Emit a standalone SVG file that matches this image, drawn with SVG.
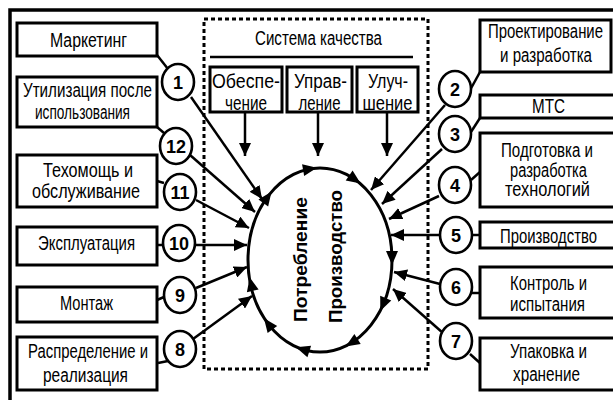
<svg xmlns="http://www.w3.org/2000/svg" width="613" height="400" viewBox="0 0 613 400">
<defs>
<style>
.box{fill:#fff;stroke:#000;stroke-width:3}
.num{fill:#fff;stroke:#000;stroke-width:2.6}
.t{font-family:"Liberation Sans Narrow","Liberation Sans",Arial,sans-serif;font-size:19.5px;text-anchor:middle;fill:#000}
.n{font-family:"Liberation Sans","Arial",sans-serif;font-size:18px;font-weight:bold;text-anchor:middle;fill:#000}
.b{font-family:"Liberation Sans","Arial",sans-serif;font-size:18.5px;font-weight:bold;fill:#000}
.ln{stroke:#000;stroke-width:2.5;fill:none}
.ar{stroke:#000;stroke-width:2.5;fill:none;marker-end:url(#ah)}
.dash{fill:none;stroke:#000;stroke-width:3;stroke-dasharray:4 3}
</style>
<marker id="ah" markerUnits="userSpaceOnUse" markerWidth="14" markerHeight="12" refX="13" refY="6" orient="auto">
<path d="M0,0 L13,6 L0,12 Z" fill="#000"/>
</marker>
<path id="tri" d="M7,0 L-7,-6 L-7,6 Z" fill="#000"/>
</defs>
<rect x="0" y="0" width="613" height="400" fill="#fff"/>
<rect x="10" y="10" width="620" height="400" fill="none" stroke="#000" stroke-width="3.5"/>
<rect id="quality-frame" class="dash" x="204" y="19" width="224" height="350"/>

<g id="connectors">
<line class="ln" x1="157" y1="55" x2="168" y2="69"/>
<line class="ln" x1="157" y1="127" x2="164" y2="133"/>
<line class="ln" x1="157" y1="181" x2="164" y2="183"/>
<line class="ln" x1="157" y1="245" x2="163" y2="245"/>
<line class="ln" x1="157" y1="300" x2="164" y2="297"/>
<line class="ln" x1="158" y1="363" x2="168" y2="361"/>
<line class="ln" x1="469" y1="92" x2="480" y2="72"/>
<line class="ln" x1="469" y1="135" x2="480" y2="118"/>
<line class="ln" x1="471" y1="180" x2="480" y2="172"/>
<line class="ln" x1="472" y1="235" x2="480" y2="235"/>
<line class="ln" x1="472" y1="293" x2="480" y2="293"/>
<line class="ln" x1="470" y1="354" x2="480" y2="363"/>
<line class="ar" x1="191" y1="97" x2="262" y2="199"/>
<line class="ar" x1="190" y1="155" x2="255" y2="212"/>
<line class="ar" x1="196" y1="200" x2="249" y2="228"/>
<line class="ar" x1="196" y1="245" x2="247" y2="245"/>
<line class="ar" x1="196" y1="288" x2="247" y2="267"/>
<line class="ar" x1="193" y1="339" x2="252" y2="296"/>
<line class="ar" x1="445" y1="105" x2="371" y2="190"/>
<line class="ar" x1="442" y1="149" x2="382" y2="204"/>
<line class="ar" x1="439" y1="196" x2="389" y2="219"/>
<line class="ar" x1="440" y1="235" x2="391" y2="235"/>
<line class="ar" x1="440" y1="284" x2="394" y2="272"/>
<line class="ar" x1="443" y1="333" x2="393" y2="289"/>
<line class="ar" x1="245" y1="112" x2="245" y2="156"/>
<line class="ar" x1="318" y1="112" x2="318" y2="156"/>
<line class="ar" x1="387" y1="112" x2="387" y2="156"/>
<line class="ln" x1="210" y1="57" x2="413" y2="57"/>
</g>

<g id="cycle">
<ellipse cx="320" cy="260" rx="72" ry="92" fill="none" stroke="#000" stroke-width="3"/>
<use href="#tri" transform="translate(310,169) rotate(-10)"/>
<use href="#tri" transform="translate(354.9,179.5) rotate(35)"/>
<use href="#tri" transform="translate(392,258) rotate(90)"/>
<use href="#tri" transform="translate(383,304.6) rotate(113)"/>
<use href="#tri" transform="translate(351.6,342.7) rotate(148)"/>
<use href="#tri" transform="translate(302.6,349.3) rotate(198)"/>
<use href="#tri" transform="translate(268.2,323.9) rotate(233)"/>
<use href="#tri" transform="translate(251.2,284) rotate(257)"/>
<use href="#tri" transform="translate(267.4,197.3) rotate(-54)"/>
<text class="b" transform="translate(307,322) rotate(-90)" textLength="125" lengthAdjust="spacingAndGlyphs">Потребление</text>
<text class="b" transform="translate(342,323) rotate(-90)" textLength="133" lengthAdjust="spacingAndGlyphs">Производство</text>
</g>

<g id="quality-system">
<text class="t" x="318.5" y="45" textLength="127" lengthAdjust="spacingAndGlyphs">Система качества</text>
</g>
<g id="obespechenie">
<rect class="box" x="210" y="67" width="72" height="45"/>
<text class="t" x="246" y="88" textLength="68" lengthAdjust="spacingAndGlyphs">Обеспе-</text>
<text class="t" x="246" y="110" textLength="42" lengthAdjust="spacingAndGlyphs">чение</text>
</g>
<g id="upravlenie">
<rect class="box" x="287" y="67" width="65" height="45"/>
<text class="t" x="320.5" y="88" textLength="53" lengthAdjust="spacingAndGlyphs">Управ-</text>
<text class="t" x="319.5" y="110" textLength="42" lengthAdjust="spacingAndGlyphs">ление</text>
</g>
<g id="uluchshenie">
<rect class="box" x="357" y="67" width="61" height="45"/>
<text class="t" x="388" y="88" textLength="40" lengthAdjust="spacingAndGlyphs">Улуч-</text>
<text class="t" x="387.5" y="110" textLength="50" lengthAdjust="spacingAndGlyphs">шение</text>
</g>

<g id="marketing">
<rect class="box" x="17" y="23" width="140" height="33"/>
<text class="t" x="88.5" y="47" textLength="77" lengthAdjust="spacingAndGlyphs">Маркетинг</text>
</g>
<g id="utilizatsiya">
<rect class="box" x="17" y="77" width="140" height="50"/>
<text class="t" x="87.5" y="97" textLength="129" lengthAdjust="spacingAndGlyphs">Утилизация после</text>
<text class="t" x="82.5" y="119" textLength="95" lengthAdjust="spacingAndGlyphs">использования</text>
</g>
<g id="tekhpomoshch">
<rect class="box" x="17" y="155" width="140" height="52"/>
<text class="t" x="88" y="177" textLength="90" lengthAdjust="spacingAndGlyphs">Техомощь и</text>
<text class="t" x="86" y="198" textLength="108" lengthAdjust="spacingAndGlyphs">обслуживание</text>
</g>
<g id="ekspluatatsiya">
<rect class="box" x="17" y="227" width="140" height="38"/>
<text class="t" x="86.5" y="250" textLength="97" lengthAdjust="spacingAndGlyphs">Эксплуатация</text>
</g>
<g id="montazh">
<rect class="box" x="17" y="287" width="140" height="35"/>
<text class="t" x="86.5" y="310" textLength="53" lengthAdjust="spacingAndGlyphs">Монтаж</text>
</g>
<g id="raspredelenie">
<rect class="box" x="17" y="337" width="140" height="53"/>
<text class="t" x="88" y="358" textLength="120" lengthAdjust="spacingAndGlyphs">Распределение и</text>
<text class="t" x="85.5" y="382" textLength="85" lengthAdjust="spacingAndGlyphs">реализация</text>
</g>

<g id="proektirovanie">
<rect class="box" x="480" y="20" width="131" height="52"/>
<text class="t" x="545.5" y="38" textLength="115" lengthAdjust="spacingAndGlyphs">Проектирование</text>
<text class="t" x="546" y="62" textLength="92" lengthAdjust="spacingAndGlyphs">и разработка</text>
</g>
<g id="mts">
<rect class="box" x="480" y="95" width="140" height="23"/>
<text class="t" x="548.5" y="113" textLength="33" lengthAdjust="spacingAndGlyphs">МТС</text>
</g>
<g id="podgotovka">
<rect class="box" x="480" y="133" width="140" height="74"/>
<text class="t" x="547" y="157" textLength="92" lengthAdjust="spacingAndGlyphs">Подготовка и</text>
<text class="t" x="548.5" y="177" textLength="77" lengthAdjust="spacingAndGlyphs">разработка</text>
<text class="t" x="547.5" y="196" textLength="85" lengthAdjust="spacingAndGlyphs">технологий</text>
</g>
<g id="proizvodstvo">
<rect class="box" x="480" y="222" width="140" height="26"/>
<text class="t" x="548.5" y="243" textLength="97" lengthAdjust="spacingAndGlyphs">Производство</text>
</g>
<g id="kontrol">
<rect class="box" x="480" y="267" width="140" height="51"/>
<text class="t" x="548.5" y="290" textLength="77" lengthAdjust="spacingAndGlyphs">Контроль и</text>
<text class="t" x="547.5" y="311" textLength="75" lengthAdjust="spacingAndGlyphs">испытания</text>
</g>
<g id="upakovka">
<rect class="box" x="480" y="338" width="140" height="52"/>
<text class="t" x="548.5" y="358" textLength="77" lengthAdjust="spacingAndGlyphs">Упаковка и</text>
<text class="t" x="546.5" y="381" textLength="67" lengthAdjust="spacingAndGlyphs">хранение</text>
</g>

<g id="c1"><ellipse class="num" cx="178" cy="82" rx="16" ry="18"/><text class="n" x="178" y="89">1</text></g>
<g id="c12"><ellipse class="num" cx="176" cy="146" rx="16" ry="18"/><text class="n" x="176" y="153">12</text></g>
<g id="c11"><ellipse class="num" cx="180" cy="192" rx="16" ry="18"/><text class="n" x="180" y="199">11</text></g>
<g id="c10"><ellipse class="num" cx="179" cy="243" rx="16" ry="18"/><text class="n" x="179" y="250">10</text></g>
<g id="c9"><ellipse class="num" cx="180" cy="295" rx="16" ry="18"/><text class="n" x="180" y="302">9</text></g>
<g id="c8"><ellipse class="num" cx="180" cy="349" rx="16" ry="18"/><text class="n" x="180" y="356">8</text></g>
<g id="c2"><ellipse class="num" cx="455" cy="89" rx="16" ry="18"/><text class="n" x="455" y="96">2</text></g>
<g id="c3"><ellipse class="num" cx="455" cy="134" rx="16" ry="18"/><text class="n" x="455" y="141">3</text></g>
<g id="c4"><ellipse class="num" cx="455" cy="185" rx="16" ry="18"/><text class="n" x="455" y="192">4</text></g>
<g id="c5"><ellipse class="num" cx="456" cy="235" rx="16" ry="18"/><text class="n" x="456" y="242">5</text></g>
<g id="c6"><ellipse class="num" cx="456" cy="287" rx="16" ry="18"/><text class="n" x="456" y="294">6</text></g>
<g id="c7"><ellipse class="num" cx="456" cy="341" rx="16" ry="18"/><text class="n" x="456" y="348">7</text></g>
</svg>
